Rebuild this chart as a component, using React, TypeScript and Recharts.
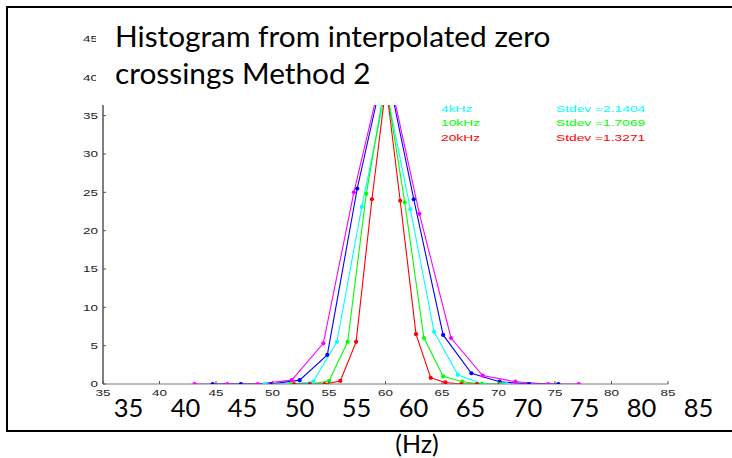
import React from "react";
import { LineChart, Line, XAxis, YAxis, Legend } from "recharts";

// histogram bin centres (Hz) and counts
const magentaHz = [43.1, 46.0, 48.7, 51.7, 54.5, 57.2, 60.0, 63.0, 65.8, 68.6, 71.5, 74.4, 77.1];
const magentaCount = [0, 0, 0, 0.5, 5.3, 25.0, 42.5, 22.2, 6.0, 1.1, 0.3, 0, 0];

const blueHz = [44.7, 47.2, 49.9, 52.4, 54.85, 57.5, 60.0, 62.5, 65.1, 67.6, 70.1, 72.7, 75.3];
const blueCount = [0, 0, 0, 0.5, 3.8, 25.5, 42, 24.1, 6.4, 1.4, 0.3, 0, 0];

const cyanHz = [49.3, 51.5, 53.6, 55.7, 57.9, 60.05, 62.2, 64.3, 66.4, 68.6, 70.7];
const cyanCount = [0, 0, 0.3, 5.5, 23.1, 38.5, 22.8, 6.8, 1.2, 0, 0];

const greenHz = [51.6, 53.3, 55.0, 56.65, 58.3, 60.0, 61.7, 63.4, 65.1, 66.8, 68.5, 70.2];
const greenCount = [0, 0, 0.4, 5.5, 24.8, 39.5, 23.7, 6.0, 1.0, 0.3, 0, 0];

const redHz = [51.9, 53.3, 54.6, 56.0, 57.4, 58.8, 60.05, 61.3, 62.7, 64.0, 65.3, 66.7, 68.1];
const redCount = [0, 0, 0, 0.4, 5.5, 24.1, 39, 23.9, 6.5, 0.8, 0.2, 0, 0];

const xTicks = [35, 40, 45, 50, 55, 60, 65, 70, 75, 80, 85];
const yTicks = [0, 5, 10, 15, 20, 25, 30, 35, 40, 45];

const legendLabels = ["4kHz", "10kHz", "20kHz"];
const legendStdevs = ["2.1404", "1.7069", "1.3271"];
const legendColors = ["#00ffff", "#00ff00", "#ff0000"];

const toPoints = (hz: number[], count: number[]) =>
    hz.map((h, i) => ({ hz: h, count: count[i] }));

const series = [
    { key: "m", color: "#ff00ff", data: toPoints(magentaHz, magentaCount) },
    { key: "b", color: "#0000ff", data: toPoints(blueHz, blueCount) },
    { key: "c", color: "#00ffff", data: toPoints(cyanHz, cyanCount) },
    { key: "g", color: "#00ff00", data: toPoints(greenHz, greenCount) },
    { key: "r", color: "#ff0000", data: toPoints(redHz, redCount) },
];

const smallFont = "'Liberation Sans', Arial, sans-serif";
const bigFont = "Lato, 'Open Sans', sans-serif";

function XTick(props: any) {
    const { x, y, payload } = props;
    const v = payload.value as number;
    return (
        <g>
            <line x1={x} x2={x} y1={y} y2={y - 3} stroke="#555" />
            <text
                transform={`translate(${x},${y + 11.7}) scale(1.45,1)`}
                textAnchor="middle"
                fontSize={9.3}
                fontFamily={smallFont}
                fill="#222"
            >
                {v}
            </text>
            <text
                x={x + 25.5 + (v - 35) * 0.1}
                y={y + 32.7}
                textAnchor="middle"
                fontSize={25.5}
                fontFamily={bigFont}
                fill="#000"
            >
                {v}
            </text>
        </g>
    );
}

function YTick(props: any) {
    const { x, y, payload } = props;
    return (
        <g>
            <line x1={x} x2={x + 3} y1={y} y2={y} stroke="#555" />
            <text
                transform={`translate(${x - 5},${y + 3.3}) scale(1.45,1)`}
                textAnchor="end"
                fontSize={9.3}
                fontFamily={smallFont}
                fill="#222"
            >
                {payload.value}
            </text>
        </g>
    );
}

function StdevLegend() {
    return (
        <div style={{ fontFamily: smallFont, fontSize: 9.5, lineHeight: "14.7px" }}>
            {legendLabels.map((label, i) => (
                <div key={label} style={{ position: "relative", height: 14.7, color: legendColors[i] }}>
                    <span style={{ position: "absolute", left: 0, transform: "scaleX(1.45)", transformOrigin: "left", whiteSpace: "nowrap" }}>
                        {label}
                    </span>
                    <span style={{ position: "absolute", left: 115, transform: "scaleX(1.45)", transformOrigin: "left", whiteSpace: "nowrap" }}>
                        {"Stdev =" + legendStdevs[i]}
                    </span>
                </div>
            ))}
        </div>
    );
}

export default function App() {
    return (
        <div style={{ position: "absolute", left: 0, top: 0, width: 732, height: 458, overflow: "hidden", background: "#fff" }}>
            <LineChart
                width={732}
                height={458}
                margin={{ top: 39, right: 64, left: 63, bottom: 44 }}
            >
                <XAxis
                    dataKey="hz"
                    type="number"
                    domain={[35, 85]}
                    ticks={xTicks}
                    height={30}
                    tickSize={0}
                    tickMargin={0}
                    tickLine={false}
                    axisLine={{ stroke: "#7a7a7a" }}
                    tick={<XTick />}
                    allowDataOverflow
                />
                <YAxis
                    type="number"
                    domain={[0, 45]}
                    ticks={yTicks}
                    width={40}
                    tickSize={0}
                    tickMargin={0}
                    tickLine={false}
                    axisLine={{ stroke: "#000" }}
                    tick={<YTick />}
                    allowDataOverflow
                />
                {/* middle/center keeps the legend from taking room off the plot */}
                <Legend
                    layout="horizontal"
                    verticalAlign="middle"
                    align="center"
                    content={() => <StdevLegend />}
                    wrapperStyle={{ position: "absolute", left: 441, top: 101.6, width: 230, zIndex: 3 }}
                />
                {series.map((s) => (
                    <Line
                        key={s.key}
                        data={s.data}
                        dataKey="count"
                        type="linear"
                        stroke={s.color}
                        strokeWidth={1.1}
                        dot={{ r: 2.1, fill: s.color, stroke: s.color, strokeWidth: 0 }}
                        activeDot={false}
                        isAnimationActive={false}
                        legendType="none"
                    />
                ))}
            </LineChart>

            {/* slide frame */}
            <div style={{ position: "absolute", left: 6, top: 6, width: 800, height: 422, border: "2px solid #000", pointerEvents: "none" }} />

            {/* slide title box, sits over the top of the plot */}
            <div
                style={{
                    position: "absolute",
                    left: 96,
                    top: 9,
                    width: 636,
                    height: 96,
                    background: "#fff",
                    zIndex: 2,
                    boxSizing: "border-box",
                    paddingLeft: 19,
                    paddingTop: 8,
                    fontFamily: bigFont,
                    fontSize: 29.8,
                    lineHeight: "37px",
                    color: "#000",
                }}
            >
                Histogram from interpolated zero
                <br />
                crossings Method 2
            </div>

            <div
                style={{
                    position: "absolute",
                    left: 317,
                    width: 200,
                    top: 428,
                    textAlign: "center",
                    fontFamily: bigFont,
                    fontSize: 25,
                    lineHeight: "30px",
                    color: "#000",
                }}
            >
                (Hz)
            </div>
        </div>
    );
}
